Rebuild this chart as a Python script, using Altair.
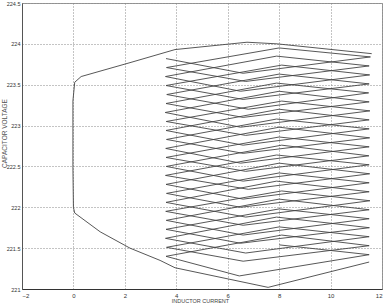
import altair as alt
import pandas as pd

# Outer boundary of the trajectory (top arc -> vertical at 0 -> bottom arc)
boundary_x = [11.6, 7.92, 6.75, 3.95, 2.2, 0.3, 0.05, -0.02, -0.02, 0.0, 0.05, 1.04, 2.2, 3.37, 3.95, 7.57, 11.5]
boundary_y = [223.88, 224.0, 224.02, 223.93, 223.77, 223.6, 223.53, 223.3, 222.5, 222.0, 221.93, 221.7, 221.5, 221.35, 221.26, 221.02, 221.33]

# Zig-zag switching cycles: left vertex -> dip -> right vertex -> peak -> next left vertex
left_x = [3.6, 3.62, 3.58, 3.6, 3.63, 3.6, 3.57, 3.61, 3.6, 3.62, 3.59, 3.6, 3.61, 3.58, 3.6, 3.62, 3.6, 3.59, 3.61, 3.6, 3.58, 3.62, 3.6]
left_y = [223.82, 223.71, 223.60, 223.49, 223.38, 223.27, 223.16, 223.05, 222.94, 222.83, 222.72, 222.61,
          222.50, 222.39, 222.28, 222.17, 222.06, 221.95, 221.84, 221.73, 221.62, 221.51, 221.40]
dip_x = [6.6, 6.7, 6.5, 6.6, 6.8, 6.6, 6.5, 6.7, 6.6, 6.6, 6.5, 6.7, 6.6, 6.8, 6.6, 6.5, 6.7, 6.6, 6.6, 6.5, 6.7, 6.6, 6.45]
dip_y = [223.64, 223.54, 223.42, 223.32, 223.20, 223.10, 222.98, 222.88, 222.76, 222.66, 222.54, 222.44,
         222.32, 222.22, 222.10, 222.00, 221.88, 221.78, 221.66, 221.56, 221.44, 221.34, 221.16]
right_x = [11.55, 11.5, 11.52, 11.5, 11.48, 11.5, 11.53, 11.5, 11.5, 11.52, 11.5, 11.49, 11.5, 11.52, 11.5, 11.5, 11.53, 11.5, 11.5, 11.51, 11.5, 11.5, 11.5]
right_y = [223.84, 223.73, 223.62, 223.51, 223.40, 223.29, 223.18, 223.07, 222.96, 222.85, 222.74, 222.63,
           222.52, 222.41, 222.30, 222.19, 222.08, 221.97, 221.86, 221.75, 221.64, 221.53, 221.42]
peak_x = [8.0, 7.9, 8.1, 8.0, 7.9, 8.0, 8.1, 8.0, 7.9, 8.0, 8.0, 8.1, 7.9, 8.0, 8.0, 7.9, 8.1, 8.0, 8.0, 7.9, 8.0, 8.1, 8.0]
peak_y = [223.95, 223.85, 223.74, 223.63, 223.52, 223.42, 223.30, 223.20, 223.08, 222.98, 222.86, 222.76,
          222.64, 222.54, 222.42, 222.32, 222.20, 222.10, 221.98, 221.88, 221.76, 221.66, 221.54]

x_ticks = [-2, 0, 2, 4, 6, 8, 10, 12]
y_ticks = [221, 221.5, 222, 222.5, 223, 223.5, 224, 224.5]

rows = []
o = 0
for bx, by in zip(boundary_x, boundary_y):
    rows.append({"i": bx, "v": by, "seg": "boundary", "o": o}); o += 1
for k in range(len(left_y)):
    for px, py in ((left_x[k], left_y[k]), (dip_x[k], dip_y[k]), (right_x[k], right_y[k]), (peak_x[k], peak_y[k])):
        rows.append({"i": px, "v": py, "seg": "zig", "o": o}); o += 1
df = pd.DataFrame(rows)

FONT = "Liberation Sans Narrow, Liberation Sans, Arial, sans-serif"
TFONT = "Liberation Sans, Arial, sans-serif"

chart = alt.Chart(df).mark_line(color="#444444", strokeWidth=0.9).encode(
    x=alt.X("i:Q", scale=alt.Scale(domain=[-2, 12], nice=False, zero=False),
            axis=alt.Axis(values=x_ticks, title="INDUCTOR CURRENT", format="~g",
                          titleFontSize=5.5, titleFont=TFONT, titleFontWeight="normal", titleColor="#444",
                          titleY=9, titleBaseline="top", titleX=178,
                          labelFontSize=6, labelFont=FONT, labelColor="#333", labelPadding=3,
                          ticks=False, domainColor="#333", domainWidth=1,
                          grid=True, gridDash=[1, 2], gridColor="#888", gridWidth=1)),
    y=alt.Y("v:Q", scale=alt.Scale(domain=[221, 224.5], nice=False, zero=False),
            axis=alt.Axis(values=y_ticks, title="CAPACITOR VOLTAGE", format="~g",
                          titleFontSize=6.5, titleFont=TFONT, titleFontWeight="normal", titleColor="#555",
                          titleX=-15, titleY=130, titleAngle=-90, titleBaseline="bottom",
                          labelFontSize=5.5, labelFont=FONT, labelColor="#333", labelPadding=2,
                          ticks=False, domainColor="#555", domainWidth=1,
                          grid=True, gridDash=[1, 2], gridColor="#888", gridWidth=1)),
    detail="seg:N",
    order="o:Q",
).properties(
    width=360, height=286,
    autosize=alt.AutoSizeParams(type="none"),
    padding={"left": 22, "top": 3, "right": 6, "bottom": 17},
    background="white",
).configure_view(stroke="#999999", strokeWidth=1)

chart.save("out.html", embed_options={"renderer": "svg", "actions": False})
